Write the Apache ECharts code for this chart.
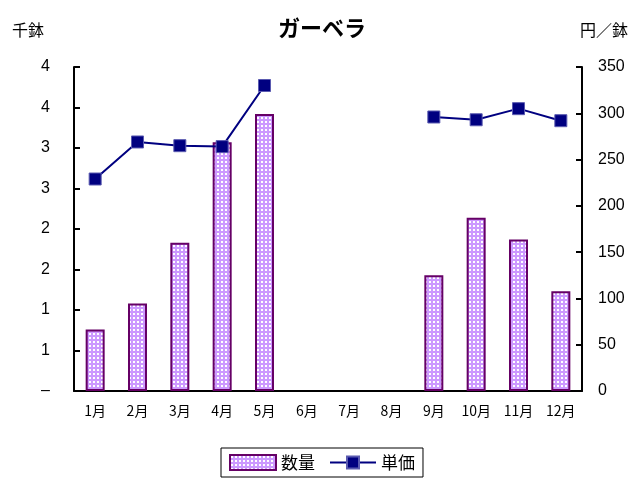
<!DOCTYPE html>
<html>
<head>
<meta charset="utf-8">
<script src="https://cdn.jsdelivr.net/npm/echarts@6/dist/echarts.min.js"></script>
<style>
html,body{margin:0;padding:0;background:#fff;}
#chart{width:644px;height:478px;}
</style>
</head>
<body>
<div id="chart"></div>
<script>
const categories = ['1月','2月','3月','4月','5月','6月','7月','8月','9月','10月','11月','12月'];
const quantity = [0.76, 1.08, 1.83, 3.07, 3.42, '-', '-', '-', 1.43, 2.14, 1.87, 1.23];
const price = [229, 269, 265, 264, 330, '-', '-', '-', 296, 293, 305, 292];
const leftTicks = { min: 0, max: 4, interval: 0.5 };
const rightTicks = { min: 0, max: 350, interval: 50 };

const FONT = '"Noto Sans CJK JP", "Noto Sans", sans-serif';
const NUMFONT = '"Liberation Sans", Arial, sans-serif';

const pc = document.createElement('canvas');
pc.width = 4; pc.height = 4;
const ctx = pc.getContext('2d');
ctx.fillStyle = '#cc99ff';
ctx.fillRect(0, 0, 4, 4);
ctx.fillStyle = '#ffffff';
ctx.fillRect(1, 1, 2, 2);

const chart = echarts.init(document.getElementById('chart'), null, { renderer: 'canvas' });
chart.setOption({
  animation: false,
  backgroundColor: '#fff',
  title: {
    text: 'ガーベラ', left: 'center', top: 12,
    textStyle: { fontFamily: FONT, fontSize: 22, fontWeight: 'bold', color: '#000' }
  },
  graphic: [
    { type: 'text', left: 12, top: 22, style: { text: '千鉢', font: '16px ' + FONT, fill: '#000' } },
    { type: 'text', right: 16, top: 22, style: { text: '円／鉢', font: '16px ' + FONT, fill: '#000' } }
  ],
  grid: { left: 74, right: 62, top: 67, bottom: 87 },
  legend: {
    bottom: 1, left: 'center',
    borderColor: '#000', borderWidth: 1, borderRadius: 0,
    padding: [6, 8, 6, 8],
    itemWidth: 46, itemHeight: 15, itemGap: 14,
    textStyle: { fontFamily: FONT, fontSize: 17, color: '#000' },
    data: [{ name: '数量', icon: 'rect' }, { name: '単価' }]
  },
  xAxis: {
    type: 'category', data: categories,
    axisLine: { lineStyle: { color: '#000', width: 2 } },
    axisTick: { inside: true, length: 5, lineStyle: { color: '#000' } },
    axisLabel: { fontFamily: FONT, fontSize: 14, color: '#000', margin: 13 }
  },
  yAxis: [
    {
      type: 'value', min: leftTicks.min, max: leftTicks.max, interval: leftTicks.interval,
      axisLine: { show: true, lineStyle: { color: '#000', width: 2 } },
      axisTick: { show: true, inside: true, length: 6, lineStyle: { color: '#000', width: 2 } },
      splitLine: { show: false },
      axisLabel: {
        fontFamily: NUMFONT, fontSize: 16, color: '#000', margin: 24,
        formatter: v => v === 0 ? '–' : String(Math.round(v))
      }
    },
    {
      type: 'value', min: rightTicks.min, max: rightTicks.max, interval: rightTicks.interval,
      axisLine: { show: true, lineStyle: { color: '#000', width: 2 } },
      axisTick: { show: true, inside: true, length: 6, lineStyle: { color: '#000', width: 2 } },
      splitLine: { show: false },
      axisLabel: { fontFamily: NUMFONT, fontSize: 16, color: '#000', margin: 16 }
    }
  ],
  series: [
    {
      name: '数量', type: 'bar', yAxisIndex: 0, data: quantity, barWidth: 19,
      itemStyle: { color: { image: pc, repeat: 'repeat' }, borderColor: '#660066', borderWidth: 2 }
    },
    {
      name: '単価', type: 'line', yAxisIndex: 1, data: price, connectNulls: false,
      symbol: 'rect', symbolSize: 12,
      lineStyle: { color: '#000080', width: 2 },
      itemStyle: { color: '#000080', borderColor: '#5a5ab0', borderWidth: 1 }
    }
  ]
});
</script>
</body>
</html>
